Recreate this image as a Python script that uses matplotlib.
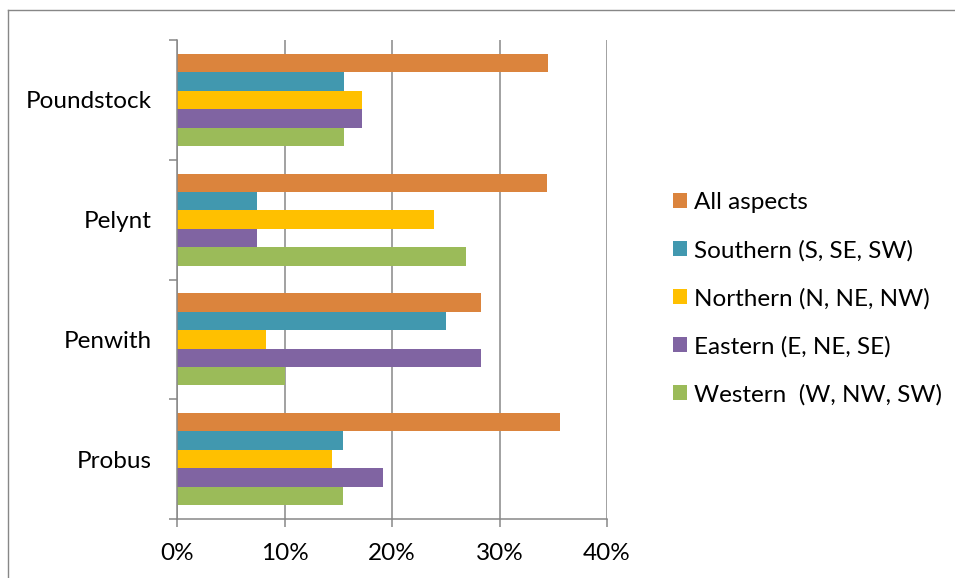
import matplotlib
matplotlib.use("Agg")
import matplotlib.pyplot as plt
from matplotlib.lines import Line2D
from matplotlib.patches import Patch
import numpy as np

# Share of sites by aspect, per parish (fraction of total)
parishes = ["Probus", "Penwith", "Pelynt", "Poundstock"]
all_aspects = [0.356, 0.283, 0.344, 0.345]
southern = [0.154, 0.250, 0.074, 0.155]
northern = [0.144, 0.083, 0.239, 0.172]
eastern = [0.192, 0.283, 0.074, 0.172]
western = [0.154, 0.100, 0.269, 0.155]

series_names = ["All aspects", "Southern (S, SE, SW)", "Northern (N, NE, NW)",
                "Eastern (E, NE, SE)", "Western  (W, NW, SW)"]
series_values = [all_aspects, southern, northern, eastern, western]
colors = ["#DB843D", "#4198AF", "#FFC000", "#8064A2", "#9BBB59"]

xticks = [0.0, 0.1, 0.2, 0.3, 0.4]
xtick_labels = ["0%", "10%", "20%", "30%", "40%"]

plt.rcParams["font.family"] = ["Lato", "DejaVu Sans"]
W, H = 955, 578
FS = 17.5
fig = plt.figure(figsize=(W / 100, H / 100), dpi=100)
ax = fig.add_axes([177 / W, 1 - 519 / H, (607 - 177) / W, (519 - 40) / H])

grey = "#878787"
n = len(series_names)
bar_h = 1.0 / (n + 1.5)  # 150% gap width
y = np.arange(len(parishes))
for i, (name, vals, c) in enumerate(zip(series_names, series_values, colors)):
    offset = (n - 1) / 2 - i
    ax.barh(y + offset * bar_h, vals, height=bar_h, color=c, label=name,
            linewidth=0, zorder=3)

ax.set_xlim(0, 0.4)
ax.set_ylim(-0.5, len(parishes) - 0.5)
ax.set_xticks(xticks)
ax.set_xticklabels(xtick_labels, fontsize=FS)
ax.set_yticks(np.arange(len(parishes) + 1) - 0.5)
ax.set_yticklabels([])
ax.set_yticks(y, minor=True)
ax.set_yticklabels(parishes, minor=True, fontsize=FS)
ax.tick_params(axis="y", which="minor", length=0, pad=18)
ax.tick_params(axis="y", which="major", length=6, width=1.1, color=grey)
ax.tick_params(axis="x", which="major", length=6, width=1.1, color=grey, pad=11)

ax.grid(axis="x", color=grey, linewidth=1.1, zorder=0)
ax.set_axisbelow(True)
for s in ["top", "right"]:
    ax.spines[s].set_visible(False)
for s in ["left", "bottom"]:
    ax.spines[s].set_color(grey)
    ax.spines[s].set_linewidth(1.1)
    ax.spines[s].set_zorder(4)

handles = [Patch(facecolor=c, edgecolor="none") for c in colors]
fig.legend(handles, series_names, loc="center left",
           bbox_to_anchor=(673 / W, 1 - 299 / H), frameon=False, fontsize=FS,
           handlelength=0.58, handleheight=0.58, handletextpad=0.3,
           labelspacing=1.09, borderpad=0, borderaxespad=0)

# outer chart frame
fig.add_artist(Line2D([8 / W, 1.0], [1 - 10 / H, 1 - 10 / H], color=grey, linewidth=1.0,
                      transform=fig.transFigure))
fig.add_artist(Line2D([8 / W, 8 / W], [1 - 10 / H, 0.0], color=grey, linewidth=1.0,
                      transform=fig.transFigure))

fig.savefig("out.png", dpi=100, facecolor="white")
